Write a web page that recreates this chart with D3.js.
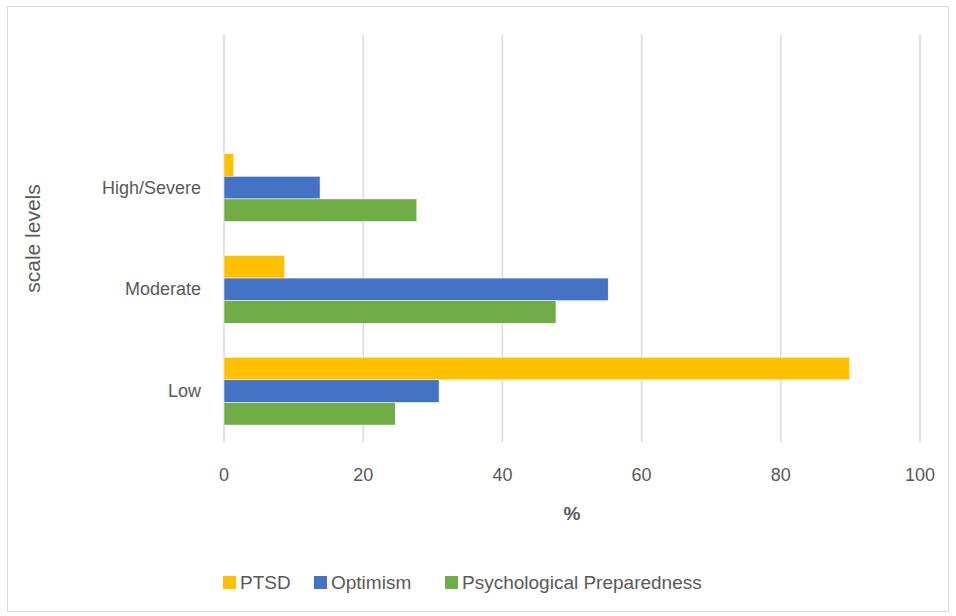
<!DOCTYPE html>
<html>
<head>
<meta charset="utf-8">
<script src="https://cdn.jsdelivr.net/npm/d3@7"></script>
<style>
  body { margin: 0; background: #fff; }
  #chart text { font-family: "Liberation Sans", Arial, sans-serif; fill: #595959; }
</style>
</head>
<body>
<div id="chart"><svg></svg></div>
<script>
// categories bottom to top, last one is an empty slot in the original
const categories = ["Low", "Moderate", "High/Severe", ""];
const seriesNames = ["PTSD", "Optimism", "Psychological Preparedness"];
const ptsd = [89.9, 8.7, 1.4, null];
const optimism = [30.9, 55.2, 13.8, null];
const preparedness = [24.6, 47.7, 27.7, null];
const xTicks = [0, 20, 40, 60, 80, 100];
const colors = ["#ffc000", "#4472c4", "#70ad47"];

const width = 956, height = 616;
const margin = { top: 35, right: 36, bottom: 174, left: 224 };

const svg = d3.select("#chart > svg").attr("width", width).attr("height", height);

svg.append("rect")
  .attr("x", 7.5).attr("y", 6.5)
  .attr("width", width - 15).attr("height", height - 11)
  .attr("fill", "#fff").attr("stroke", "#d9d9d9");

const x = d3.scaleLinear().domain([0, 100]).range([margin.left, width - margin.right]);

// reversed so that "Low" sits at the bottom
const y = d3.scaleBand()
  .domain(categories)
  .range([height - margin.bottom, margin.top]);

const inner = d3.scaleBand()
  .domain(seriesNames)
  .range([0, y.bandwidth()])
  .paddingOuter(0.75);

// gridlines
svg.append("g")
  .selectAll("line")
  .data(xTicks)
  .join("line")
  .attr("x1", d => x(d)).attr("x2", d => x(d))
  .attr("y1", margin.top).attr("y2", height - margin.bottom)
  .attr("stroke", "#d9d9d9")
  .attr("stroke-width", 1.5);

const rows = categories.map((c, i) => ({
  cat: c,
  vals: [ptsd[i], optimism[i], preparedness[i]]
}));

svg.append("g")
  .selectAll("g")
  .data(rows)
  .join("g")
  .attr("transform", d => `translate(0, ${y(d.cat)})`)
  .selectAll("rect")
  .data(d => d.vals.map((v, j) => ({ v, name: seriesNames[j], color: colors[j] })).filter(d => d.v != null))
  .join("rect")
  .attr("x", x(0))
  .attr("y", d => inner(d.name))
  .attr("width", d => x(d.v) - x(0))
  .attr("height", inner.bandwidth())
  .attr("fill", d => d.color)
  .attr("stroke", "#fff")
  .attr("stroke-width", 0.5);

// x tick labels
svg.append("g")
  .selectAll("text")
  .data(xTicks)
  .join("text")
  .attr("x", d => x(d))
  .attr("y", 481)
  .attr("text-anchor", "middle")
  .attr("font-size", 18)
  .text(d => d);

// category labels
svg.append("g")
  .selectAll("text")
  .data(categories.filter(c => c))
  .join("text")
  .attr("x", 201)
  .attr("y", d => y(d) + y.bandwidth() / 2 + 6)
  .attr("text-anchor", "end")
  .attr("font-size", 18)
  .text(d => d);

// axis titles
svg.append("text")
  .attr("x", (x(0) + x(100)) / 2)
  .attr("y", 520)
  .attr("text-anchor", "middle")
  .attr("font-size", 19)
  .attr("font-weight", "bold")
  .text("%");

svg.append("text")
  .attr("transform", `translate(40, ${(margin.top + height - margin.bottom) / 2}) rotate(-90)`)
  .attr("text-anchor", "middle")
  .attr("font-size", 21)
  .text("scale levels");

// legend
const legendX = [223, 314, 445];
const legend = svg.append("g")
  .selectAll("g")
  .data(seriesNames)
  .join("g")
  .attr("transform", (d, i) => `translate(${legendX[i]}, 576)`);

legend.append("rect")
  .attr("width", 13).attr("height", 13)
  .attr("fill", (d, i) => colors[i]);

legend.append("text")
  .attr("x", 17)
  .attr("y", 13)
  .attr("font-size", 19)
  .text(d => d);
</script>
</body>
</html>
